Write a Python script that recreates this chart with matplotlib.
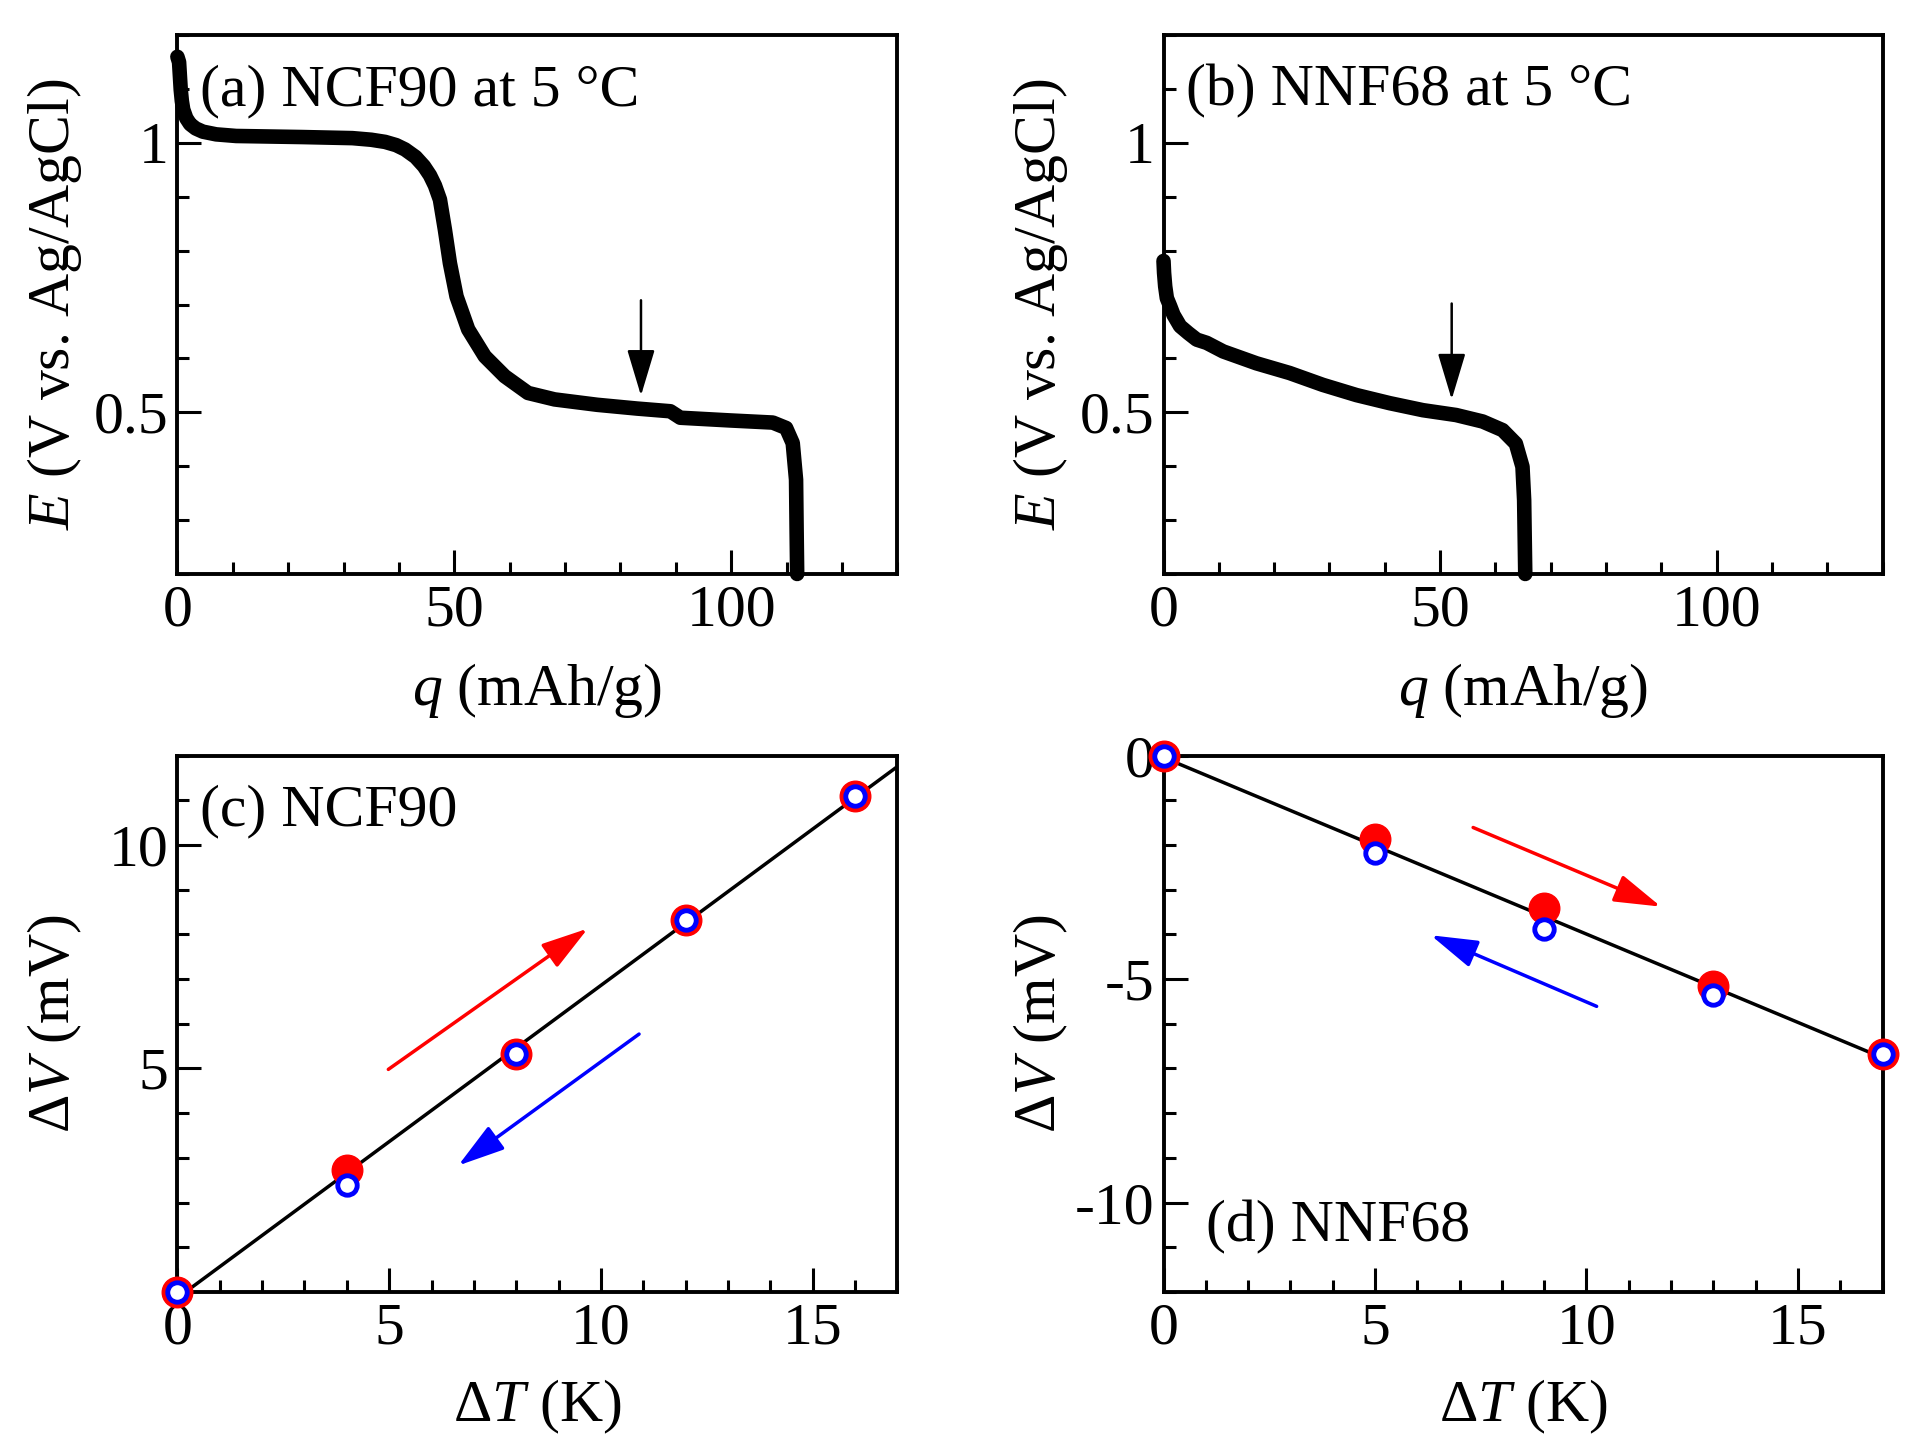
import numpy as np
import matplotlib
matplotlib.use("Agg")
import matplotlib.pyplot as plt
from matplotlib.ticker import MultipleLocator, FormatStrFormatter

plt.rcParams["font.family"] = ["Liberation Serif", "DejaVu Serif"]
plt.rcParams["mathtext.fontset"] = "custom"
plt.rcParams["mathtext.rm"] = "Liberation Serif"
plt.rcParams["mathtext.it"] = "Liberation Serif:italic"
plt.rcParams["axes.unicode_minus"] = False
plt.rcParams["font.size"] = 43

# (a) NCF90 discharge curve at 5 C
q_ncf = [0.0, 0.3, 0.6, 0.8, 1.05, 1.6, 2.3, 3.3, 4.6, 7.0, 10.6, 22.6, 31.6, 35.0,
         37.5, 39.5, 41.1, 43.0, 44.5, 45.6, 46.5, 47.4, 48.3, 49.2, 50.4, 52.5, 55.5,
         59.1, 63.3, 68.1, 75.8, 83.0, 89.0, 90.8, 99.7, 107.5, 109.9, 111.1, 111.7,
         111.8, 111.9]
E_ncf = [1.16, 1.15, 1.099, 1.078, 1.062, 1.046, 1.035, 1.027, 1.021, 1.016, 1.013,
         1.011, 1.009, 1.006, 1.002, 0.996, 0.988, 0.974, 0.957, 0.940, 0.921, 0.895,
         0.839, 0.777, 0.715, 0.654, 0.604, 0.567, 0.536, 0.524, 0.514, 0.507, 0.502,
         0.490, 0.485, 0.481, 0.471, 0.443, 0.375, 0.283, 0.20]

# (b) NNF68 discharge curve at 5 C
q_nnf = [0.0, 0.1, 0.3, 0.6, 1.2, 1.8, 3.0, 4.5, 6.0, 7.8, 10.8, 16.8, 22.8, 28.8,
         34.9, 40.9, 46.9, 52.9, 57.7, 61.3, 63.7, 64.9, 65.2, 65.4]
E_nnf = [0.781, 0.759, 0.734, 0.712, 0.697, 0.681, 0.660, 0.647, 0.635, 0.629, 0.613,
         0.591, 0.573, 0.551, 0.532, 0.517, 0.504, 0.495, 0.483, 0.467, 0.442, 0.399,
         0.337, 0.20]

# (c) NCF90 dV vs dT
dT_c = [0, 4, 8, 12, 16]
dV_c_heat = [0.0, 2.72, 5.33, 8.32, 11.1]
dV_c_cool = [0.0, 2.39, 5.33, 8.32, 11.1]

# (d) NNF68 dV vs dT
dT_d = [0, 5, 9, 13, 17]
dV_d_heat = [0.0, -1.86, -3.41, -5.16, -6.67]
dV_d_cool = [0.0, -2.18, -3.89, -5.36, -6.67]

fig = plt.figure(figsize=(19.2, 14.56), dpi=100)
ax_a = fig.add_axes([0.0924, 0.6058, 0.375, 0.370])
ax_b = fig.add_axes([0.6060, 0.6058, 0.3745, 0.370])
ax_c = fig.add_axes([0.0924, 0.1126, 0.375, 0.3685])
ax_d = fig.add_axes([0.6060, 0.1126, 0.3745, 0.3685])


def style(ax):
    for s in ax.spines.values():
        s.set_linewidth(2.8)
    ax.tick_params(which="both", direction="in", top=False, right=False, width=2.2)
    ax.tick_params(which="major", length=17)
    ax.tick_params(which="minor", length=8.6)
    ax.tick_params(axis="x", pad=7.5)
    ax.tick_params(axis="y", pad=6.5)


def arrow(ax, tail, tip, color, lw=2.5, ms=36):
    ax.annotate("", xy=tip, xytext=tail,
                arrowprops=dict(arrowstyle="-|>,head_length=0.8,head_width=0.24",
                                mutation_scale=ms, color=color, lw=lw,
                                shrinkA=0, shrinkB=0))


# top row
for ax, q, E, title in [(ax_a, q_ncf, E_ncf, "(a) NCF90 at 5 °C"),
                        (ax_b, q_nnf, E_nnf, "(b) NNF68 at 5 °C")]:
    ax.plot(q, E, color="black", lw=10.5, solid_capstyle="round",
            solid_joinstyle="round", clip_on=False, zorder=3)
    ax.set_xlim(0, 130)
    ax.set_ylim(0.2, 1.2)
    ax.set_xticks([0, 50, 100])
    ax.xaxis.set_minor_locator(MultipleLocator(10))
    ax.set_yticks([0.5, 1.0])
    ax.yaxis.set_minor_locator(MultipleLocator(0.1))
    ax.yaxis.set_major_formatter(FormatStrFormatter("%g"))
    ax.set_xlabel("$q$ (mAh/g)", va="top")
    ax.set_ylabel("$E$ (V vs. Ag/AgCl)")
    ax.xaxis.set_label_coords(0.5, -0.162)
    ax.yaxis.set_label_coords(-0.13, 0.5)
    ax.text(0.031, 0.896, title, transform=ax.transAxes, va="center", ha="left")
    style(ax)

arrow(ax_a, (83.7, 0.708), (83.7, 0.531), "black", lw=1.8)
arrow(ax_b, (52.1, 0.702), (52.1, 0.524), "black", lw=1.8)

# bottom row
for ax, dT, heat, cool in [(ax_c, dT_c, dV_c_heat, dV_c_cool),
                           (ax_d, dT_d, dV_d_heat, dV_d_cool)]:
    slope, icpt = np.polyfit(dT + dT, heat + cool, 1)
    xs = np.array([0, 17])
    ax.plot(xs, slope * xs + icpt, color="black", lw=2.5, zorder=2)
    ax.plot(dT, heat, "o", color="red", ms=22, clip_on=False, zorder=3)
    ax.plot(dT, cool, "o", mfc="white", mec="blue", ms=14, mew=3.5,
            clip_on=False, zorder=4)
    ax.set_xlim(0, 17)
    ax.set_xticks([0, 5, 10, 15])
    ax.xaxis.set_minor_locator(MultipleLocator(1))
    ax.yaxis.set_minor_locator(MultipleLocator(1))
    ax.set_xlabel("Δ$T$ (K)", va="top")
    ax.set_ylabel("Δ$V$ (mV)")
    ax.xaxis.set_label_coords(0.5, -0.159)
    ax.yaxis.set_label_coords(-0.13, 0.5)
    style(ax)

ax_c.set_ylim(0, 12)
ax_c.set_yticks([5, 10])
ax_d.set_ylim(-12, 0)
ax_d.set_yticks([0, -5, -10])

ax_c.text(0.031, 0.896, "(c) NCF90", transform=ax_c.transAxes, va="center", ha="left")
ax_d.text(0.059, 0.120, "(d) NNF68", transform=ax_d.transAxes, va="center", ha="left")

arrow(ax_c, (4.98, 4.98), (9.69, 8.13), "red")
arrow(ax_c, (10.9, 5.77), (6.63, 2.83), "blue")
arrow(ax_d, (7.32, -1.61), (11.76, -3.38), "red")
arrow(ax_d, (10.24, -5.61), (6.32, -4.02), "blue")

fig.savefig("out.png", dpi=100)
